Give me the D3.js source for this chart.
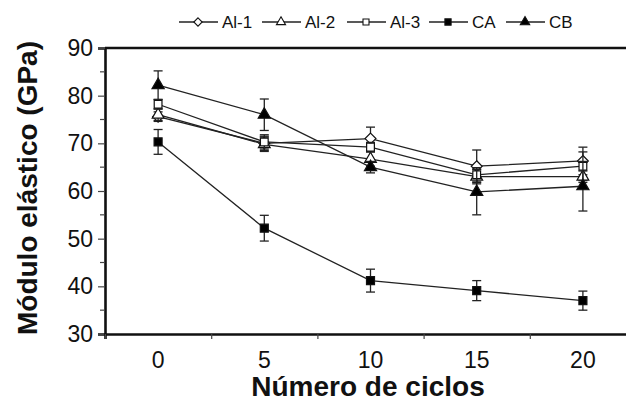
<!DOCTYPE html>
<html>
<head>
<meta charset="utf-8">
<script src="https://cdn.jsdelivr.net/npm/d3@7"></script>
<style>
  body { margin: 0; background: #fff; }
  text { font-family: "Liberation Sans", Arial, sans-serif; fill: #111; }
</style>
</head>
<body>
<svg class="chart" width="626" height="403"></svg>
<script>
var cycles = [0, 5, 10, 15, 20];
var seriesNames = ['Al-1', 'Al-2', 'Al-3', 'CA', 'CB'];

var al1 = [75.6, 70, 71, 65.2, 66.3];
var al1Err = [1, 1.5, 2.4, 3.4, 2.9];
var al2 = [76, 69.8, 66.7, 63, 63];
var al2Err = [1.2, 1.5, 1.5, 1.5, 1.2];
var al3 = [78.2, 70.3, 69.2, 63.4, 65.2];
var al3Err = [1, 1.5, 1, 1.5, 3];
var ca = [70.3, 52.2, 41.2, 39.1, 37];
var caErr = [2.6, 2.7, 2.4, 2.1, 2];
var cb = [82.2, 76, 65, 59.8, 61];
var cbErr = [3, 3.3, 1.2, 4.8, 5.2];

var yTicks = [30, 40, 50, 60, 70, 80, 90];
var xLabels = ['0', '5', '10', '15', '20'];

var shapes = [d3.symbolDiamond2, d3.symbolTriangle, d3.symbolSquare, d3.symbolSquare, d3.symbolTriangle];
var fills = ['#fff', '#fff', '#fff', '#000', '#000'];
var sizes = [75, 60, 60, 64, 64];
var values = [al1, al2, al3, ca, cb];
var errs = [al1Err, al2Err, al3Err, caErr, cbErr];

var series = seriesNames.map(function(n, i) {
  return {name: n, values: values[i], err: errs[i], shape: shapes[i], fill: fills[i], size: sizes[i]};
});

var svg = d3.select('.chart');

var x = d3.scaleLinear().domain([-2.5, 22.5]).range([105, 636]);
var y = d3.scaleLinear().domain([30, 90]).range([334, 48]);

// top frame line
svg.append('line')
  .attr('x1', x(-2.5)).attr('x2', x(22.5))
  .attr('y1', y(90)).attr('y2', y(90))
  .attr('stroke', '#111').attr('stroke-width', 2.4);

// y axis: major every 10, minor every 5
var yAxis = svg.append('g')
  .attr('transform', 'translate(' + x(-2.5) + ',0)')
  .call(d3.axisLeft(y).tickValues(yTicks).tickSize(7).tickPadding(5).tickFormat(d3.format('d')));
yAxis.append('g').selectAll('line')
  .data([35, 45, 55, 65, 75, 85])
  .enter().append('line')
  .attr('x1', -5).attr('x2', 0)
  .attr('y1', function(d) { return y(d); })
  .attr('y2', function(d) { return y(d); })
  .attr('stroke', '#444').attr('stroke-width', 1.2);
yAxis.select('.domain').attr('stroke', '#111').attr('stroke-width', 2.6);
yAxis.selectAll('.tick line').attr('stroke', '#444').attr('stroke-width', 1.2);
yAxis.selectAll('.tick text')
  .attr('font-size', 23).attr('fill', '#1a1a1a')
  .style('font-family', '"Liberation Sans", Arial, sans-serif');

// x axis: ticks between the cycles, labels under the cycles
var xAxis = svg.append('g')
  .attr('transform', 'translate(0,' + y(30) + ')')
  .call(d3.axisBottom(x).tickValues([-2.5, 2.5, 7.5, 12.5, 17.5, 22.5]).tickSize(5).tickFormat(''));
xAxis.select('.domain').attr('stroke', '#111').attr('stroke-width', 2.6);
xAxis.selectAll('.tick line').attr('stroke', '#444').attr('stroke-width', 1.2);

svg.append('g').selectAll('text')
  .data(cycles)
  .enter().append('text')
  .attr('x', function(d) { return x(d); })
  .attr('y', 368)
  .attr('text-anchor', 'middle')
  .attr('font-size', 23)
  .attr('fill', '#1a1a1a')
  .text(function(d, i) { return xLabels[i]; });

// axis titles
svg.append('text')
  .attr('x', 368).attr('y', 396)
  .attr('text-anchor', 'middle')
  .attr('font-size', 28).attr('font-weight', 'bold')
  .text('Número de ciclos');

svg.append('text')
  .attr('transform', 'translate(37,188) rotate(-90)')
  .attr('text-anchor', 'middle')
  .attr('font-size', 28).attr('font-weight', 'bold')
  .text('Módulo elástico (GPa)');

var line = d3.line()
  .x(function(d, i) { return x(cycles[i]); })
  .y(function(d) { return y(d); });

series.forEach(function(s) {
  var g = svg.append('g');

  g.append('path')
    .datum(s.values)
    .attr('d', line)
    .attr('fill', 'none')
    .attr('stroke', '#222')
    .attr('stroke-width', 1.3);

  // error bars
  var eb = g.selectAll('.err').data(s.values).enter().append('g');
  eb.append('line')
    .attr('x1', function(d, i) { return x(cycles[i]); })
    .attr('x2', function(d, i) { return x(cycles[i]); })
    .attr('y1', function(d, i) { return y(d + s.err[i]); })
    .attr('y2', function(d, i) { return y(d - s.err[i]); })
    .attr('stroke', '#222').attr('stroke-width', 1.3);
  [1, -1].forEach(function(sign) {
    eb.append('line')
      .attr('x1', function(d, i) { return x(cycles[i]) - 4.5; })
      .attr('x2', function(d, i) { return x(cycles[i]) + 4.5; })
      .attr('y1', function(d, i) { return y(d + sign * s.err[i]); })
      .attr('y2', function(d, i) { return y(d + sign * s.err[i]); })
      .attr('stroke', '#222').attr('stroke-width', 1.3);
  });

  g.selectAll('.pt').data(s.values).enter().append('path')
    .attr('d', d3.symbol().type(s.shape).size(s.size))
    .attr('transform', function(d, i) { return 'translate(' + x(cycles[i]) + ',' + y(d) + ')'; })
    .attr('fill', s.fill)
    .attr('stroke', '#111')
    .attr('stroke-width', 1.2);
});

// legend
var legendX = [179, 262, 347, 429, 506];
var lg = svg.append('g').selectAll('g')
  .data(series)
  .enter().append('g')
  .attr('transform', function(d, i) { return 'translate(' + legendX[i] + ',22)'; });
lg.append('line')
  .attr('x1', 0).attr('x2', 39)
  .attr('stroke', '#222').attr('stroke-width', 1.3);
lg.append('path')
  .attr('d', function(d) { return d3.symbol().type(d.shape).size(d.size * 0.6)(); })
  .attr('transform', 'translate(19,0)')
  .attr('fill', function(d) { return d.fill; })
  .attr('stroke', '#111').attr('stroke-width', 1.1);
lg.append('text')
  .attr('x', 43).attr('y', 6)
  .attr('font-size', 17)
  .attr('fill', '#1a1a1a')
  .text(function(d) { return d.name; });
</script>
</body>
</html>
